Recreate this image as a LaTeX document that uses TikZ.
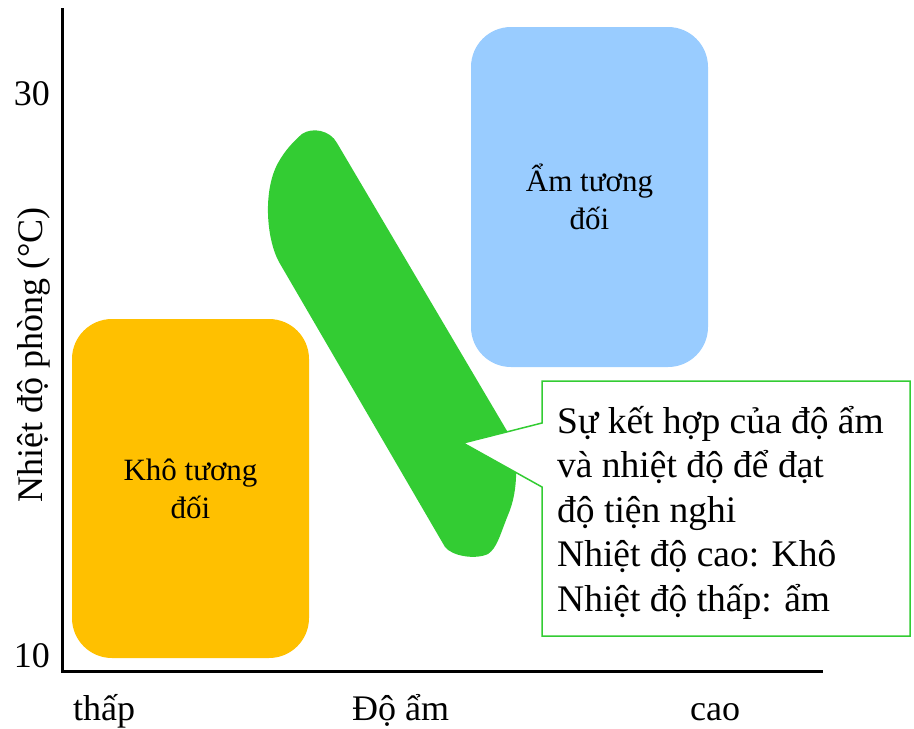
\documentclass[tikz,border=0pt]{standalone}
\usepackage{fontspec}
\setmainfont{Liberation Serif}
\usetikzlibrary{calc}
\definecolor{dryorange}{HTML}{FFC000}
\definecolor{wetblue}{HTML}{99CCFF}
\definecolor{comfgreen}{HTML}{33CC33}
\newcommand{\zonew}{237pt}
\newcommand{\zoneh}{339pt}
\newcommand{\zoner}{40pt}
\newcommand{\axisfont}{\fontsize{36}{43}\selectfont}
\newcommand{\zonefont}{\fontsize{31}{38}\selectfont}
\newcommand{\notefont}{\fontsize{37.5}{44.5}\selectfont}

\begin{document}
\begin{tikzpicture}[x=1pt,y=-1pt,
    zone/.style={rounded corners=\zoner,minimum width=\zonew,
      minimum height=\zoneh,inner sep=0pt,align=center,font=\zonefont},
    axislabel/.style={inner sep=0pt,font=\axisfont},
    axisline/.style={line width=3pt}]
    \useasboundingbox (0,0) rectangle (914,729);
    % axes
    \coordinate (ytop) at (62,8);
    \coordinate (origin) at (62,671);
    \coordinate (xend) at (823,671);
    \draw[axisline] (ytop) -- (origin) -- (xend);
    % dry part
    \node[zone,fill=dryorange] (dry) at (190.5,488.5) {Khô tương\\đối};
    % humid part
    \node[zone,fill=wetblue,minimum height=340pt] (wet) at (589.5,197) {Ẩm tương\\đối};
    % comfort band
    \fill[comfgreen] (279,262) .. controls (266,238) and (263,190) .. (278,163)
      .. controls (285,150) and (295,140) .. (302,134)
      .. controls (312,127) and (330,130) .. (337,143)
      -- (510,436)
      .. controls (518,455) and (519,490) .. (508,515)
      .. controls (500,535) and (497,548) .. (488,554)
      .. controls (475,560) and (452,556) .. (445,547)
      -- cycle;
    % note part
    \coordinate (notenw) at (542,381);
    \coordinate (notese) at (910,636);
    \coordinate (tip) at (463,443);
    \filldraw[draw=comfgreen,fill=white,line width=1.5pt] (notenw)
      -- (notenw -| notese) -- (notese) -- (notese -| notenw)
      -- ($(notenw)+(0,106)$) -- (tip) -- ($(notenw)+(0,42)$) -- cycle;
    \node[anchor=base west,inner sep=0pt,align=left,font=\notefont] (note)
      at (557,611) {Sự kết hợp của độ ẩm\\và nhiệt độ để đạt\\độ tiện nghi\\Nhiệt độ cao: Khô\\Nhiệt độ thấp: ẩm};
    % axis labels
    \node[axislabel,anchor=base east] (t30) at (50,105) {30};
    \node[axislabel,anchor=base east] (t10) at (50,667) {10};
    \node[axislabel,anchor=base west] (low) at (73,720) {thấp};
    \node[axislabel,anchor=base west] (humid) at (352,720) {Độ ẩm};
    \node[axislabel,anchor=base west] (high) at (690,720) {cao};
    \node[axislabel,anchor=base,rotate=90] (temp) at (42,355) {Nhiệt độ phòng (°C)};
  \end{tikzpicture}
\end{document}
